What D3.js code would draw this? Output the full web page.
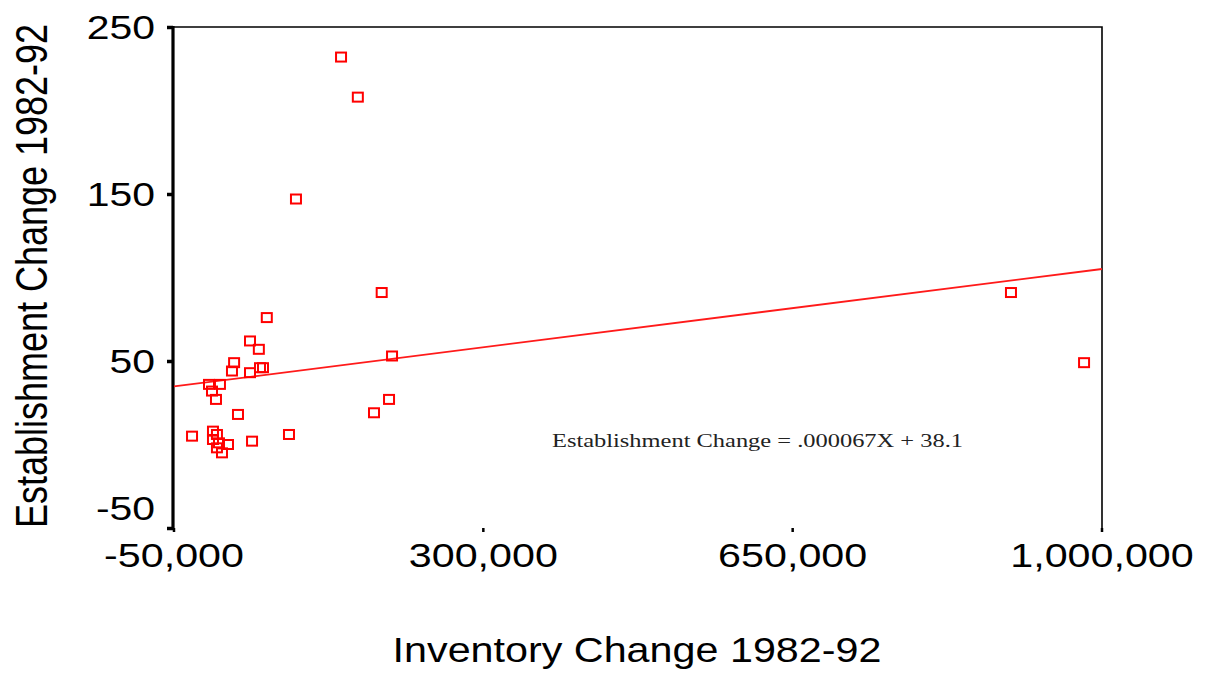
<!DOCTYPE html>
<html lang="en">
  <head>
    <meta charset="UTF-8" />
    <title>Establishment vs Inventory Change 1982-92</title>
    <script src="https://d3js.org/d3.v7.min.js"></script>
    <style>
      body {
        margin: 0;
        background: #fff;
      }
      text {
        font-family: "Liberation Sans", Arial, sans-serif;
        fill: #000;
      }
    </style>
  </head>
  <body>
    <script>
      // values
      const inventoryChange = [
        139000, 158000, 88000, 185000, 55000, 36000, 46000, 18000, 15600,
        36000, 47300, 50700, -10400, 2000, -7000, -2500, 22400, -29600, -5900,
        -1400, -5900, 900, 11100, -1400, 4300, 38300, 80100, 176300, 193300,
        196700, 897000, 979700,
      ];
      const establishmentChange = [
        232, 208, 147, 91, 76, 62, 57, 49, 44, 43, 46, 46, 36, 36, 32, 27, 18,
        5, 8, 6, 3, 1, 0, -2, -5, 2, 6, 19, 27, 53, 91, 49,
      ];
      const xTicks = [-50000, 300000, 650000, 1000000];
      const yTicks = [-50, 50, 150, 250];
      const fitSlope = 0.000067;
      const fitIntercept = 38.1;

      const width = 1209,
        height = 673;
      const plotLeft = 174,
        plotRight = 1102,
        plotTop = 27,
        plotBottom = 528;

      const svg = d3
        .select("body")
        .append("svg")
        .attr("width", width)
        .attr("height", height);

      const x = d3.scaleLinear().domain([-50000, 1000000]).range([plotLeft, plotRight]);
      const y = d3.scaleLinear().domain([-50, 250]).range([plotBottom, plotTop]);

      // plain hyphen instead of d3's unicode minus
      const fmtX = (d) => d3.format(",")(d).replace("\u2212", "-");
      const fmtY = (d) => String(d);

      // frame: top and right thin lines
      svg
        .append("path")
        .attr("d", `M${plotLeft - 2},${plotTop}H${plotRight}V${plotBottom}`)
        .attr("fill", "none")
        .attr("stroke", "#000")
        .attr("stroke-width", 1.6);

      // y axis
      const yAxis = svg
        .append("g")
        .attr("transform", `translate(${plotLeft - 1},0)`)
        .call(
          d3.axisLeft(y).tickValues(yTicks).tickFormat(fmtY).tickSize(6).tickSizeOuter(0)
        );
      yAxis.select(".domain").remove();
      yAxis
        .append("line")
        .attr("y1", plotTop - 1)
        .attr("y2", plotBottom + 2)
        .attr("stroke", "#000")
        .attr("stroke-width", 3.2);
      yAxis.selectAll(".tick line").attr("stroke-width", 3.5);
      yAxis
        .selectAll(".tick text")
        .attr("font-size", 33)
        .attr("x", -14.5)
        .attr("dy", "0.36em")
        .attr("transform", (d) =>
          d === -50 ? "translate(0,-20) scale(1.24,1)" : "scale(1.24,1)"
        );

      // x axis (no baseline, only small ticks)
      const xAxis = svg
        .append("g")
        .attr("transform", `translate(0,${plotBottom})`)
        .call(
          d3.axisBottom(x).tickValues(xTicks).tickFormat(fmtX).tickSize(4).tickSizeOuter(0)
        );
      xAxis.select(".domain").remove();
      xAxis.selectAll(".tick line").attr("stroke-width", 2.5);
      xAxis
        .selectAll(".tick text")
        .attr("font-size", 33)
        .attr("y", 39)
        .attr("dy", 0)
        .attr("transform", "scale(1.25,1)")
        .attr("text-anchor", "middle");
      // keep the label centred on the tick after the horizontal stretch
      xAxis.selectAll(".tick").each(function (d) {
        const tx = x(d);
        d3.select(this)
          .attr("transform", null)
          .select("text")
          .attr("x", tx / 1.25);
        d3.select(this).select("line").attr("x1", tx).attr("x2", tx);
      });

      // regression line
      const fitX = [-50000, 1000000];
      svg
        .append("line")
        .attr("x1", x(fitX[0]))
        .attr("y1", y(fitSlope * fitX[0] + fitIntercept))
        .attr("x2", x(fitX[1]))
        .attr("y2", y(fitSlope * fitX[1] + fitIntercept))
        .attr("stroke", "#ff1a1a")
        .attr("stroke-width", 1.8);

      // points as open squares
      const pts = inventoryChange.map((v, i) => [v, establishmentChange[i]]);
      svg
        .append("g")
        .selectAll("rect")
        .data(pts)
        .join("rect")
        .attr("x", (d) => x(d[0]) - 5)
        .attr("y", (d) => y(d[1]) - 4.5)
        .attr("width", 10)
        .attr("height", 9)
        .attr("fill", "none")
        .attr("stroke", "#ff0000")
        .attr("stroke-width", 2);

      // equation
      svg
        .append("text")
        .attr("x", 552)
        .attr("y", 447)
        .attr("font-size", 19)
        .attr("textLength", 411)
        .attr("lengthAdjust", "spacingAndGlyphs")
        .style("font-family", '"Liberation Serif", "Times New Roman", serif')
        .style("fill", "#222")
        .text("Establishment Change = .000067X + 38.1");

      // axis titles
      svg
        .append("text")
        .attr("transform", "translate(637,662) scale(1.18,1)")
        .attr("text-anchor", "middle")
        .attr("font-size", 35)
        .text("Inventory Change 1982-92");

      svg
        .append("text")
        .attr("transform", "translate(47,276) scale(1.22,1) rotate(-90)")
        .attr("text-anchor", "middle")
        .attr("font-size", 36)
        .text("Establishment Change 1982-92");
    </script>
  </body>
</html>
